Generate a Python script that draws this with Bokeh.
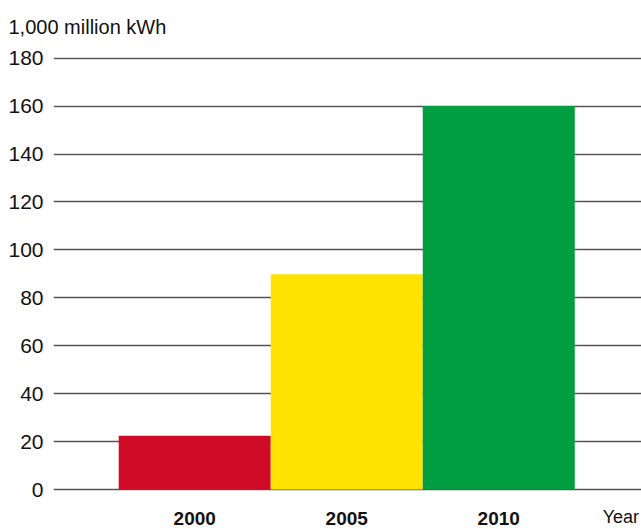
from bokeh.plotting import figure
from bokeh.models import Range1d, FixedTicker, Title
from bokeh.core.properties import value
from bokeh.embed import file_html
from bokeh.resources import INLINE

years = ["2000", "2005", "2010"]
values = [22.5, 89.8, 160.0]
colors = ["#cf0a26", "#ffe300", "#009e40"]
y_ticks = [0, 20, 40, 60, 80, 100, 120, 140, 160, 180]
unit_label = "1,000 million kWh"
x_title = "Year"

FONT = "Liberation Sans"

xs = [i + 1 for i in range(len(years))]

p = figure(width=641, height=529, output_backend="svg", toolbar_location=None,
           x_range=Range1d(0.071, 3.939), y_range=Range1d(-16.65, 182.79),
           min_border_left=53, min_border_right=0, min_border_top=50, min_border_bottom=0,
           x_axis_location=None)
p.outline_line_color = None
p.background_fill_color = "white"
p.border_fill_color = "white"

p.title = Title(text=unit_label, align="left", offset=-45, standoff=27,
                text_font=FONT, text_font_size="20px", text_font_style="normal",
                text_color="#111111")

p.vbar(x=xs, top=values, width=1.0, bottom=0, fill_color=colors, line_color=None)

p.xgrid.visible = False
p.ygrid.ticker = FixedTicker(ticks=y_ticks)
p.ygrid.grid_line_color = "#555555"
p.ygrid.grid_line_width = 1.5
p.ygrid.level = "underlay"

ya = p.yaxis[0]
ya.ticker = FixedTicker(ticks=y_ticks)
ya.axis_line_color = None
ya.major_tick_line_color = None
ya.minor_tick_line_color = None
ya.major_tick_out = 0
ya.major_label_standoff = 10
ya.major_label_text_font = FONT
ya.major_label_text_font_size = "21px"
ya.major_label_text_color = "#111111"

p.text(x=xs, y=-12.0, text=years, text_align="center", text_baseline="middle",
       text_font=value(FONT), text_font_style="bold", text_font_size="19px",
       text_color="#111111")
p.text(x=[3.803], y=-11.6, text=[x_title], text_align="center", text_baseline="middle",
       text_font=value(FONT), text_font_size="18px", text_color="#111111")

open("out.html", "w").write(file_html(p, INLINE))
